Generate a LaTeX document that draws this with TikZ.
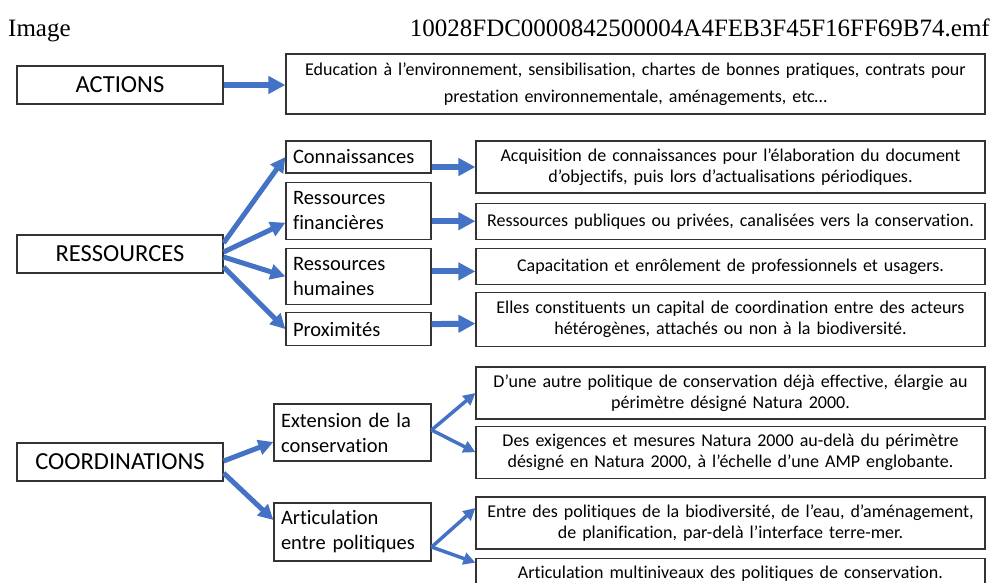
\documentclass[tikz,border=0pt]{standalone}
\usepackage{fontspec}
\setmainfont{Carlito}[RawFeature={-liga;-clig;-calt;-dlig}]
\newfontfamily\hdrfont{Liberation Serif}
\usetikzlibrary{arrows.meta,positioning,calc}
\definecolor{arrblue}{HTML}{4472C4}
\tikzset{
  mainbox/.style={draw=black!80,line width=1.2pt,inner sep=0pt,minimum width=206pt,minimum height=38pt,font=\fontsize{24.5}{28}\selectfont},
  subbox/.style={draw=black!80,line width=1.2pt,inner xsep=7pt,inner ysep=0pt,text width=131pt,align=left,font=\fontsize{20.5}{25}\selectfont},
  infobox/.style={draw=black!80,line width=1.2pt,inner sep=0pt,text width=509pt,align=center,font=\fontsize{18}{21}\selectfont},
  bigarrow/.style={-{Triangle[length=17pt,width=17pt]},line width=6pt,draw=arrblue},
  fanarrow/.style={-{Triangle[length=15pt,width=15pt]},line width=5pt,draw=arrblue},
  thinarrow/.style={-{Triangle[length=12pt,width=12pt]},line width=3.5pt,draw=arrblue}
}

\begin{document}
\begin{tikzpicture}[x=1pt,y=-1pt]
  \useasboundingbox (0,0) rectangle (995,582);
  % header
  \node[anchor=base west,inner sep=0pt,font=\hdrfont\fontsize{25}{28}\selectfont] (title) at (8,36) {Image};
  \node[anchor=base east,inner sep=0pt,font=\hdrfont\fontsize{25}{28}\selectfont] (fname) at (990,36) {10028FDC0000842500004A4FEB3F45F16FF69B74.emf};

  % actions
  \node[mainbox] (act) at (120,85) {ACTIONS};
  \node[infobox, text width=699pt, minimum height=60pt, font=\fontsize{18}{27}\selectfont] (actD) at (635.5,84)
    {Education à l’environnement, sensibilisation, chartes de bonnes pratiques, contrats pour\\ prestation environnementale, aménagements, etc…};
  \draw[bigarrow] (act.east) -- (act.east -| actD.west);

  % ressources
  \node[mainbox] (res) at (120,254) {RESSOURCES};
  \node[subbox, minimum height=32pt] (con) at (358.5,157) {Connaissances};
  \node[subbox, minimum height=57pt, below=8pt of con] (fin) {Ressources\\ financières};
  \node[subbox, minimum height=56pt, below=8pt of fin] (hum) {Ressources\\ humaines};
  \node[subbox, minimum height=33pt, below=7pt of hum] (prox) {Proximités};
  \node[infobox, minimum height=52pt] (conD) at (730.5,167)
    {Acquisition de connaissances pour l’élaboration du document\\ d’objectifs, puis lors d’actualisations périodiques.};
  \node[infobox, minimum height=36pt, below=9pt of conD] (finD)
    {Ressources publiques ou privées, canalisées vers la conservation.};
  \node[infobox, minimum height=36pt, below=8pt of finD] (humD)
    {Capacitation et enrôlement de professionnels et usagers.};
  \node[infobox, minimum height=54pt, below=7pt of humD] (proxD)
    {Elles constituents un capital de coordination entre des acteurs\\ hétérogènes, attachés ou non à la biodiversité.};
  \draw[fanarrow] ($(res.east)+(0,-11)$) -- (con.west);
  \draw[fanarrow] ($(res.east)+(0,-2)$) -- ($(fin.west)+(0,12)$);
  \draw[fanarrow] ($(res.east)+(0,3)$) -- (hum.west);
  \draw[fanarrow] ($(res.east)+(0,13)$) -- (prox.west);
  \draw[bigarrow] (con.east |- conD.west) -- (conD.west);
  \draw[bigarrow] (fin.east |- finD.west) -- (finD.west);
  \draw[bigarrow] ($(hum.east)+(0,-5)$) -- ($(humD.west)+(0,5)$);
  \draw[bigarrow] ($(prox.east)+(0,-5)$) -- ($(proxD.west)+(0,4)$);

  % coordinations
  \node[mainbox] (coord) at (120,462) {COORDINATIONS};
  \node[subbox, text width=143pt, minimum height=57pt] (ext) at (352.5,432.5) {Extension de la\\ conservation};
  \node[subbox, text width=143pt, minimum height=58pt] (art) at (352.5,532) {Articulation\\ entre politiques};
  \node[infobox, minimum height=52pt] (duneD) at (730.5,393)
    {D’une autre politique de conservation déjà effective, élargie au\\ périmètre désigné Natura 2000.};
  \node[infobox, minimum height=52pt, below=6pt of duneD] (desD)
    {Des exigences et mesures Natura 2000 au-delà du périmètre\\ désigné en Natura 2000, à l’échelle d’une AMP englobante.};
  \node[infobox, minimum height=52pt] (entreD) at (730.5,523)
    {Entre des politiques de la biodiversité, de l’eau, d’aménagement,\\ de planification, par-delà l’interface terre-mer.};
  \node[infobox, minimum height=30pt, below=8pt of entreD] (multiD)
    {Articulation multiniveaux des politiques de conservation.};
  \draw[fanarrow] ($(coord.east)+(0,-1)$) -- ($(ext.west)+(0,9.5)$);
  \draw[fanarrow] ($(coord.east)+(0,11)$) -- ($(art.west)+(0,-12)$);
  \draw[thinarrow] ($(ext.east)+(0,-2.5)$) -- (duneD.west);
  \draw[thinarrow] ($(ext.east)+(0,-2.5)$) -- (desD.west);
  \draw[thinarrow] ($(art.east)+(0,15)$) -- ($(entreD.west)+(0,-15)$);
  \draw[thinarrow] ($(art.east)+(0,15)$) -- ($(multiD.north west)+(0,5)$);
\end{tikzpicture}
\end{document}
